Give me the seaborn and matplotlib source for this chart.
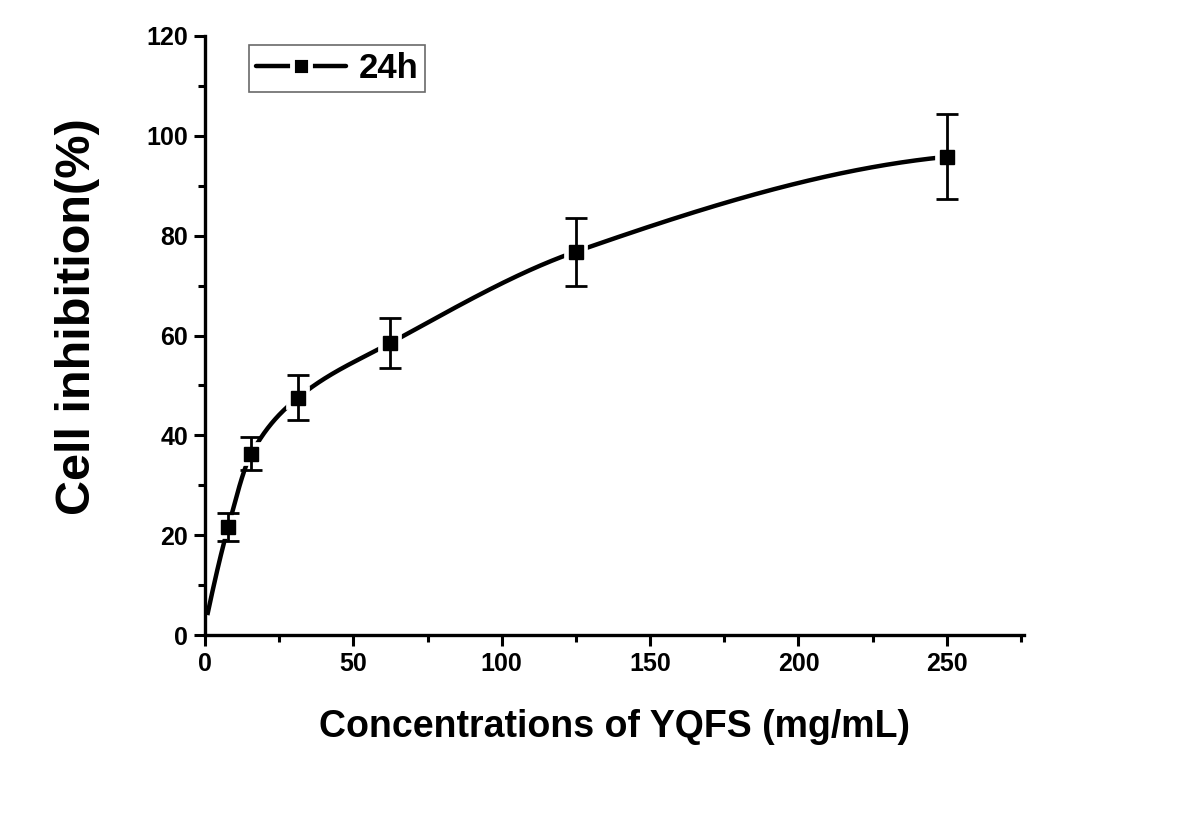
import numpy as np
import seaborn as sns
import matplotlib.pyplot as plt
from matplotlib.ticker import MultipleLocator

# data
conc = [7.8, 15.6, 31.25, 62.5, 125, 250]
inhibition = [21.6, 36.3, 47.5, 58.5, 76.8, 95.8]
inhibition_err = [2.8, 3.3, 4.5, 5.1, 6.8, 8.5]
curve_start = (0.8, 4.0)  # where the drawn curve begins near the origin


def pchip(xk, yk, xs):
    # monotone cubic (Fritsch-Carlson) for drawing the connecting line
    xk = np.asarray(xk, float)
    yk = np.asarray(yk, float)
    h = np.diff(xk)
    d = np.diff(yk) / h
    m = np.zeros_like(yk)
    for i in range(1, len(xk) - 1):
        if d[i - 1] * d[i] > 0:
            w1 = 2 * h[i] + h[i - 1]
            w2 = h[i] + 2 * h[i - 1]
            m[i] = (w1 + w2) / (w1 / d[i - 1] + w2 / d[i])
    m[0] = ((2 * h[0] + h[1]) * d[0] - h[0] * d[1]) / (h[0] + h[1])
    m[-1] = ((2 * h[-1] + h[-2]) * d[-1] - h[-1] * d[-2]) / (h[-1] + h[-2])
    idx = np.clip(np.searchsorted(xk, xs) - 1, 0, len(xk) - 2)
    t = (xs - xk[idx]) / h[idx]
    h00 = 2 * t**3 - 3 * t**2 + 1
    h10 = t**3 - 2 * t**2 + t
    h01 = -2 * t**3 + 3 * t**2
    h11 = t**3 - t**2
    return (h00 * yk[idx] + h10 * h[idx] * m[idx]
            + h01 * yk[idx + 1] + h11 * h[idx] * m[idx + 1])


sns.set_style("ticks")
plt.rcParams['font.family'] = ['Liberation Sans', 'DejaVu Sans']
plt.rcParams['font.weight'] = 'bold'
for key in ['text.color', 'axes.labelcolor', 'xtick.color', 'ytick.color',
            'axes.edgecolor']:
    plt.rcParams[key] = 'black'

fig = plt.figure(figsize=(12, 8.35), dpi=100)
ax = fig.add_axes([0.1708, 0.2395, 0.6825, 0.7174])

xk = [curve_start[0]] + conc
yk = [curve_start[1]] + inhibition
xs = np.linspace(xk[0], xk[-1], 600)
sns.lineplot(x=xs, y=pchip(xk, yk, xs), ax=ax, color='black', lw=3.2,
             solid_capstyle='butt', zorder=2)

# white halo so the line breaks around each marker
ax.plot(conc, inhibition, 's', ms=10, color='black', mec='white', mew=7,
        ls='none', zorder=3)
ax.errorbar(conc, inhibition, yerr=inhibition_err, fmt='none', ecolor='black',
            elinewidth=2, capsize=8, capthick=2, zorder=4)
ax.plot(conc, inhibition, 's', ms=9.5, color='black', ls='none', zorder=5)

# legend handle: line - gap - marker - gap - line
ax.plot([], [], color='black', lw=3.2, marker='s', ms=13, mfc='black',
        mec='white', mew=3.5, label='24h')
leg = ax.legend(loc='upper left', bbox_to_anchor=(0.054, 0.985),
                prop={'size': 25, 'weight': 'bold'}, frameon=True,
                fancybox=False, handlelength=2.6, borderpad=0.2,
                handletextpad=0.35, borderaxespad=0)
leg.get_frame().set_edgecolor('#444444')
leg.get_frame().set_linewidth(1.2)

ax.set_xlim(0, 276)
ax.set_ylim(0, 120)
ax.xaxis.set_major_locator(MultipleLocator(50))
ax.xaxis.set_minor_locator(MultipleLocator(25))
ax.yaxis.set_major_locator(MultipleLocator(20))
ax.yaxis.set_minor_locator(MultipleLocator(10))
ax.tick_params(which='major', length=8, width=2.2, labelsize=18, pad=4)
ax.tick_params(which='minor', length=5, width=2.2)
for lab in ax.get_xticklabels() + ax.get_yticklabels():
    lab.set_fontweight('bold')

sns.despine(ax=ax)
for side in ['left', 'bottom']:
    ax.spines[side].set_linewidth(2.4)

ax.set_xlabel('Concentrations of YQFS (mg/mL)', fontsize=27,
              fontweight='bold', labelpad=24)
ax.set_ylabel('Cell inhibition(%)', fontsize=35, fontweight='bold')
ax.yaxis.set_label_coords(-0.128, 0.531)

fig.savefig('out.png', dpi=100)
